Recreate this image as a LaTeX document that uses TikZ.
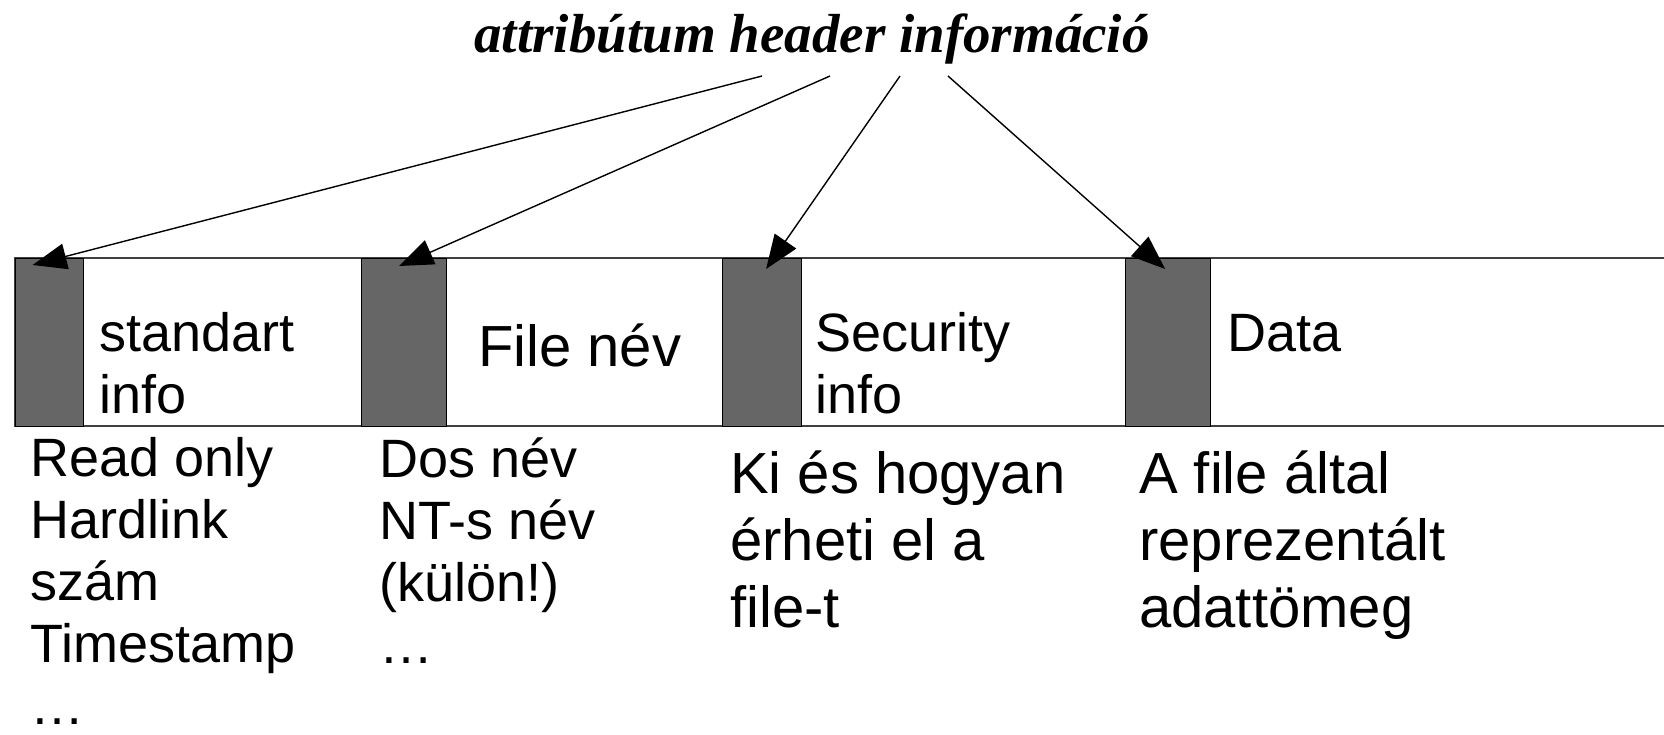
\documentclass[tikz,border=0pt]{standalone}
\usepackage{fontspec}
\setmainfont{Liberation Sans}
\newfontfamily\titlefont{Liberation Serif}
\usetikzlibrary{arrows.meta}
\definecolor{attrgray}{HTML}{666666}

\begin{document}
\begin{tikzpicture}[x=1pt,y=-1pt,
    attr/.style={draw=black,fill=attrgray,line width=1.2pt,minimum height=168pt,inner sep=0pt,anchor=north west},
    lbl/.style={anchor=base west,inner sep=0pt,align=left,font=\fontsize{54}{62}\selectfont},
    big/.style={anchor=base west,inner sep=0pt,align=left,font=\fontsize{58}{67}\selectfont},
    ptr/.style={-{Triangle[length=34pt,width=26pt]},line width=1.4pt}]
\useasboundingbox (0,0) rectangle (1664,735);
\node[anchor=base,inner sep=0pt,font=\titlefont\bfseries\itshape\fontsize{55}{66}\selectfont] (title) at (812,53) {attribútum header információ};
% the record strip, open to the right
\draw[line width=2pt,black!75] (1664,258) -- (15,258) -- (15,426) -- (1664,426);
\node[attr,minimum width=68pt] (std) at (15,258) {};
\node[attr,minimum width=85pt] (fname) at (361,258) {};
\node[attr,minimum width=79pt] (sec) at (722,258) {};
\node[attr,minimum width=85pt] (data) at (1125,258) {};
% base anchors sit on the last line
\node[lbl] (stdtxt) at (99,413) {standart\\info};
\node[big] (fnametxt) at (478,366) {File név};
\node[lbl] (sectxt) at (815,413) {Security\\info};
\node[lbl] (datatxt) at (1227,351) {Data};
\node[lbl] (stdlist) at (30,724) {Read only\\Hardlink\\szám\\Timestamp\\\dots};
\node[lbl] (fnamelist) at (379,663) {Dos név\\NT-s név\\(külön!)\\\dots};
\node[big] (secnote) at (730,627) {Ki és hogyan\\érheti el a\\file-t};
\node[big] (datanote) at (1139,627) {A file által\\reprezentált\\adattömeg};
\draw[ptr] ([xshift=-50pt,yshift=-23pt]title.base) -- ([xshift=-17pt,yshift=-7pt]std.north);
\draw[ptr] ([xshift=18pt,yshift=-23pt]title.base) -- ([xshift=-5pt,yshift=-8pt]fname.north);
\draw[ptr] ([xshift=88pt,yshift=-23pt]title.base) -- ([xshift=4pt,yshift=-11pt]sec.north);
\draw[ptr] ([xshift=136pt,yshift=-23pt]title.base) -- ([xshift=-3pt,yshift=-11pt]data.north);
\end{tikzpicture}
\end{document}
